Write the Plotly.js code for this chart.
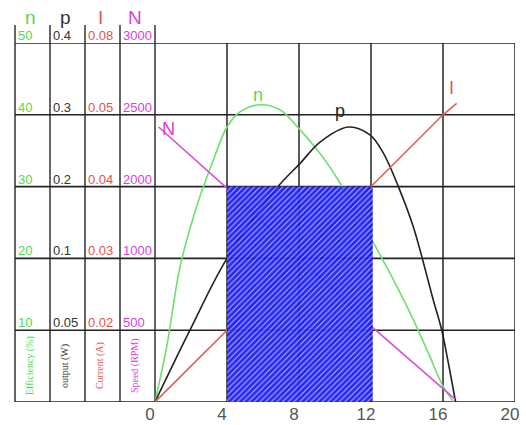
<!DOCTYPE html>
<html>
<head>
<meta charset="utf-8">
<script src="https://cdn.plot.ly/plotly-3.0.1.min.js"></script>
<style>
  html, body { margin: 0; padding: 0; background: #fff; }
  #chart { width: 526px; height: 425px; }
</style>
</head>
<body>
<div id="chart"></div>
<script>
// rows of the grid (y in grid units, 1 unit = one row)
var rowLevels = [1, 2, 3, 4, 5];
var effTicks = ['10', '20', '30', '40', '50'];
var outTicks = ['0.05', '0.1', '0.2', '0.3', '0.4'];
var curTicks = ['0.02', '0.03', '0.04', '0.05', '0.08'];
var spdTicks = ['500', '1000', '2000', '2500', '3000'];

var colHeads = ['n', 'p', 'I', 'N'];
var colTitles = ['Efficiency (%)', 'output (W)', 'Current (A)', 'Speed (RPM)'];
var colColors = ['#4fdc4f', '#333333', '#e2564a', '#d83fd8'];

var xTicks = [0, 4, 8, 12, 16, 20];

// efficiency n
var nX = [0, 0.65, 1.39, 2.31, 3.24, 4.0, 4.72, 5.83, 6.94, 8.06, 9.17, 10.28, 12.04, 13.06, 14.17, 15.19, 16.02, 16.6];
var nY = [0, 0.77, 1.88, 2.72, 3.37, 3.83, 4.04, 4.14, 4.07, 3.79, 3.46, 3.05, 2.26, 1.79, 1.24, 0.68, 0.21, 0];
// output p
var pX = [0, 1.94, 4.0, 6.83, 8.05, 9.17, 10.74, 11.94, 12.68, 13.52, 14.35, 15.46, 15.93, 16.3, 16.7];
var pY = [0, 1.0, 2.0, 3.0, 3.32, 3.62, 3.83, 3.72, 3.47, 3.0, 2.44, 1.42, 1.0, 0.54, 0];
// current I
var iX = [0, 4, 8, 12, 16, 16.76];
var iY = [0, 1, 2, 3, 4, 4.16];
// speed N
var sX = [0.2, 3.9, 8, 12.04, 16.67];
var sY = [3.83, 3.0, 2.02, 1.05, 0.04];

// operating band
var bandX = [4.0, 4.0, 12.1, 12.1, 4.0];
var bandY = [0, 3, 3, 0, 0];

function line(x, y, color, shape) {
  return { type: 'scatter', mode: 'lines', x: x, y: y,
    line: { color: color, width: 1.6, shape: shape, smoothing: 1 }, hoverinfo: 'skip' };
}

var data = [
  line(nX, nY, '#6ee06e', 'spline'),
  line(pX, pY, '#222222', 'spline'),
  line(iX, iY, '#e2604f', 'linear'),
  line(sX, sY, '#d94fd9', 'linear'),
  {
    type: 'scatter', mode: 'none', x: bandX, y: bandY, fill: 'toself',
    fillcolor: '#1a1aee', opacity: 0.93, hoverinfo: 'skip',
    fillpattern: { shape: '/', fgcolor: '#aeb2ff', bgcolor: '#1a1aee', size: 4, solidity: 0.25 }
  }
];

// paper x of a pixel column (plot area starts at 155px, 360px wide)
function px(p) { return (p - 155) / 360; }
var colLeft = [15, 50, 85, 120];

var shapes = [];
[15, 50, 85, 120, 155].forEach(function (p) {
  shapes.push({ type: 'line', xref: 'paper', yref: 'paper', x0: px(p), x1: px(p), y0: 0, y1: 1.05,
    line: { color: '#666', width: 2 }, layer: 'below' });
});
[4, 8, 12, 16, 20].forEach(function (v) {
  shapes.push({ type: 'line', xref: 'x', yref: 'paper', x0: v, x1: v, y0: 0, y1: 1,
    line: { color: '#333', width: 1.6 }, layer: 'below' });
});
[0, 1, 2, 3, 4, 5].forEach(function (v) {
  shapes.push({ type: 'line', xref: 'paper', yref: 'y', x0: px(15), x1: 1, y0: v, y1: v,
    line: { color: '#222', width: 1.6 }, layer: 'below' });
});

var annotations = [];
var tickCols = [effTicks, outTicks, curTicks, spdTicks];
tickCols.forEach(function (ticks, c) {
  ticks.forEach(function (t, r) {
    annotations.push({ xref: 'paper', yref: 'y', x: px(colLeft[c]), y: rowLevels[r],
      xanchor: 'left', yanchor: 'bottom', xshift: 1, yshift: -2, showarrow: false, text: t,
      font: { family: 'Liberation Sans Narrow, Liberation Sans', size: 13, color: colColors[c] } });
  });
  annotations.push({ xref: 'paper', yref: 'paper', x: px(colLeft[c] + 15), y: 1.072,
    xanchor: 'center', yanchor: 'middle', showarrow: false, text: colHeads[c],
    font: { family: 'Liberation Sans', size: 19, color: colColors[c] } });
  annotations.push({ xref: 'paper', yref: 'y', x: px(colLeft[c] + 15), y: 0.5,
    xanchor: 'center', yanchor: 'middle', showarrow: false, text: colTitles[c], textangle: -90,
    font: { family: 'Liberation Serif', size: 10, color: colColors[c] } });
});

// curve labels
annotations.push({ x: 5.7, y: 4.27, text: 'n', showarrow: false,
  font: { family: 'Liberation Sans', size: 18, color: '#4fdc4f' } });
annotations.push({ x: 10.3, y: 4.05, text: 'p', showarrow: false,
  font: { family: 'Liberation Sans', size: 18, color: '#222' } });
annotations.push({ x: 16.45, y: 4.37, text: 'I', showarrow: false,
  font: { family: 'Liberation Sans', size: 18, color: '#e2564a' } });
annotations.push({ x: 0.75, y: 3.8, text: 'N', showarrow: false,
  font: { family: 'Liberation Sans', size: 18, color: '#d83fd8' } });

var layout = {
  width: 526, height: 425,
  margin: { l: 155, r: 11, t: 43, b: 23 },
  paper_bgcolor: '#fff', plot_bgcolor: 'rgba(0,0,0,0)',
  showlegend: false,
  xaxis: {
    range: [0, 20], tickvals: xTicks, ticktext: xTicks.map(String),
    showgrid: false, zeroline: false, showline: false, ticks: '',
    ticklabelshift: -5, ticklabelstandoff: 0,
    tickfont: { family: 'Liberation Sans', size: 17, color: '#555' }
  },
  yaxis: { range: [0, 5], visible: false },
  shapes: shapes,
  annotations: annotations
};

Plotly.newPlot('chart', data, layout, { displayModeBar: false, staticPlot: true });
</script>
</body>
</html>
